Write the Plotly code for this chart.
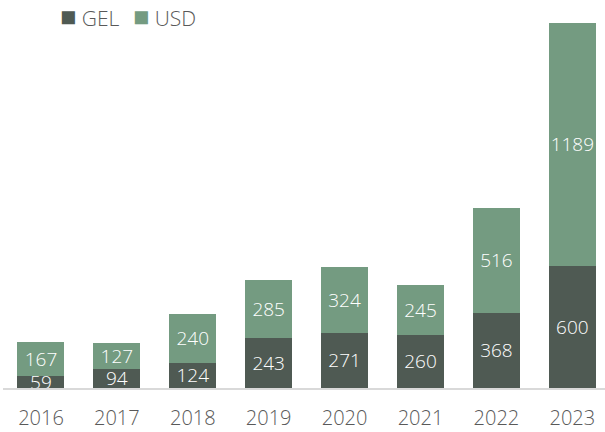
import plotly.graph_objects as go

years = ["2016", "2017", "2018", "2019", "2020", "2021", "2022", "2023"]
gel = [59, 94, 124, 243, 271, 260, 368, 600]
usd = [167, 127, 240, 285, 324, 245, 516, 1189]
series_names = ["GEL", "USD"]

GEL_COLOR = "#4f5a53"
USD_COLOR = "#749b81"
FONT = "Open Sans"
GRAY = "#595959"
TXT = dict(color="white", size=19, family=FONT, weight=300)

fig = go.Figure()
for name, vals, col in [(series_names[0], gel, GEL_COLOR), (series_names[1], usd, USD_COLOR)]:
    fig.add_trace(go.Bar(
        x=years, y=vals, name=name, marker=dict(color=col, line=dict(width=0)),
        text=[str(v) for v in vals], textposition="inside", insidetextanchor="middle",
        textangle=0, textfont=TXT, cliponaxis=True,
    ))

# legend drawn as text annotations (tight spacing like the reference)
for name, col, xp in [(series_names[0], GEL_COLOR, 0.091), (series_names[1], USD_COLOR, 0.212)]:
    fig.add_annotation(
        xref="paper", yref="paper", x=xp, y=1.0082, xanchor="left", yanchor="middle",
        showarrow=False,
        text=f"<span style='color:{col};font-family:DejaVu Sans;font-size:27px'>■</span> {name}",
        font=dict(size=21, color=GRAY, family=FONT, weight=300),
    )

fig.update_layout(
    barmode="stack",
    bargap=0.38,
    width=605, height=432,
    margin=dict(l=3, r=0, t=20, b=44, autoexpand=False),
    paper_bgcolor="white", plot_bgcolor="white",
    font=dict(family=FONT, color=GRAY, size=19, weight=300),
    uniformtext=dict(mode="show", minsize=19),
    showlegend=False,
)
fig.update_xaxes(
    type="category", range=[-0.5, 7.43], automargin=False,
    showline=True, linecolor="#d9d9d9", linewidth=1.5,
    ticks="", ticklabelstandoff=11, showgrid=False,
    tickfont=dict(size=20, color=GRAY, family=FONT, weight=300),
)
fig.update_yaxes(
    range=[0, 1804], visible=False, showgrid=False, zeroline=False, automargin=False,
)

fig.write_html(
    "out.html",
    config={"displayModeBar": False},
    post_script="document.body.style.margin='0';document.body.style.overflow='hidden';",
)
